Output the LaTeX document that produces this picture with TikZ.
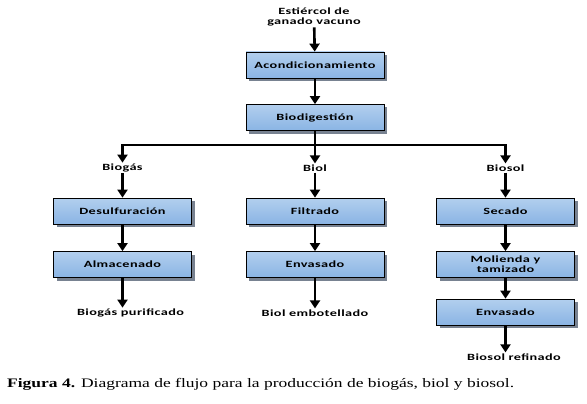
\documentclass[tikz,border=0pt]{standalone}
\usepackage{fontspec}
\setmainfont{Liberation Serif}
\newfontfamily\boxfont[FakeStretch=1.5,LetterSpace=4]{Carlito}
\newfontfamily\capfont{Liberation Serif}
\usetikzlibrary{arrows.meta,shadows}
\definecolor{boxtop}{RGB}{178,207,238}
\definecolor{boxbot}{RGB}{138,180,228}
\definecolor{shadowgray}{RGB}{120,130,145}
\tikzset{
  box/.style={draw=black, line width=0.8pt, minimum width=138pt, minimum height=26pt,
    inner sep=1pt, top color=boxtop, bottom color=boxbot,
    drop shadow={shadow xshift=3pt, shadow yshift=-3pt, fill=shadowgray, opacity=1},
    font=\boxfont\bfseries\fontsize{9.5}{10}\selectfont, align=center},
  lbl/.style={font=\boxfont\bfseries\fontsize{9.5}{10}\selectfont, align=center, inner sep=1pt},
  arr/.style={line width=2.6pt, -{Triangle[width=10pt,length=8pt]}},
  ln/.style={line width=2.6pt}
}
\begin{document}
\begin{tikzpicture}[x=1pt,y=-1pt]
\useasboundingbox (0,0) rectangle (587,404);
% top
\node[lbl] (src) at (314,17) {Estiércol de\\ganado vacuno};
\node[box] (acon) at (315,65) {Acondicionamiento};
\node[box] (biod) at (315,117.5) {Biodigestión};
\coordinate (j) at (315,145);
% labels
\node[lbl] (lgas) at (122.5,168) {Biogás};
\node[lbl] (lbiol) at (315,168) {Biol};
\node[lbl] (lsol) at (505.5,168) {Biosol};
% boxes
\node[box] (desu) at (122.5,211) {Desulfuración};
\node[box] (alma) at (122.5,264.5) {Almacenado};
\node[box] (filt) at (315,211) {Filtrado};
\node[box] (env1) at (315,264.5) {Envasado};
\node[box] (seca) at (505.5,211) {Secado};
\node[box] (moli) at (505.5,264.5) {Molienda y\\tamizado};
\node[box] (env2) at (505.5,312) {Envasado};
% outputs
\node[lbl] (ogas) at (130.5,313) {Biogás purificado};
\node[lbl] (obiol) at (315,313) {Biol embotellado};
\node[lbl] (osol) at (514,357) {Biosol refinado};
% connectors
\draw[arr] (src) -- (acon);
\draw[arr] (acon) -- (biod);
\draw[ln] (biod.south) -- (j);
\draw[arr] ([xshift=1.3pt]j) -| (lgas);
\draw[arr] ([xshift=-1.3pt]j) -| (lsol);
\draw[arr] (j) -- (lbiol);
\draw[arr] (lgas) -- (desu);
\draw[arr] (desu) -- (alma);
\draw[arr] (alma) -- (alma.south |- ogas.north);
\draw[arr] (lbiol) -- (filt);
\draw[arr] (filt) -- (env1);
\draw[arr] (env1) -- (obiol);
\draw[arr] (lsol) -- (seca);
\draw[arr] (seca) -- (moli);
\draw[arr] (moli) -- (env2);
\draw[arr] (env2) -- (env2.south |- osol.north);
% caption
\node[anchor=base west, inner sep=0pt] (cap) at (7,387)
  {\scalebox{1.345}[1]{\capfont\fontsize{13}{15}\selectfont\textbf{Figura 4.} Diagrama de flujo para la producción de biogás, biol y biosol.}};
\end{tikzpicture}
\end{document}
